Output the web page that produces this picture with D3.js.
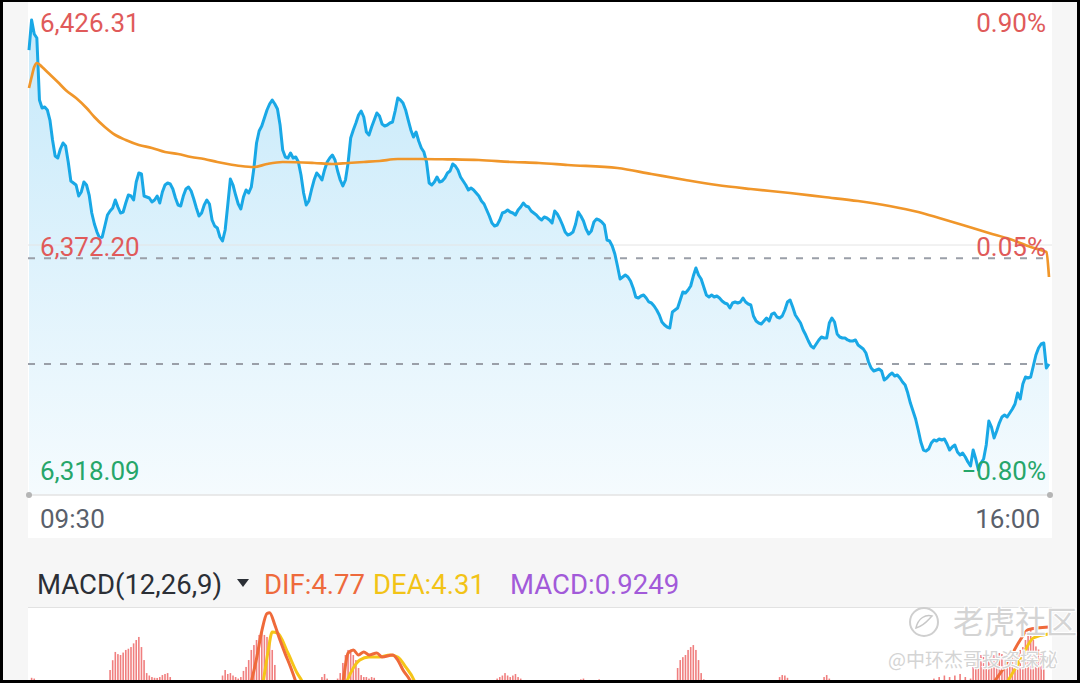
<!DOCTYPE html>
<html>
<head>
<meta charset="utf-8">
<script src="https://cdnjs.cloudflare.com/ajax/libs/d3/7.8.5/d3.min.js"></script>
<style>
body { margin: 0; background: #000; }
svg { display: block; font-family: Roboto, "Noto Sans", sans-serif; }
</style>
</head>
<body>
<script>
// minute closes, index = minutes after 09:30 (0..390)
var price = [
6419.09,6426.31,6422.94,6421.98,6407.07,6405.15,6405.39,6404.67,6402.26,6397.45,
6393.60,6393.12,6395.29,6396.73,6396.01,6392.16,6387.59,6387.11,6386.63,6383.98,
6384.95,6387.35,6386.63,6384.22,6379.89,6377.25,6375.32,6373.88,6374.12,6376.77,
6379.41,6380.38,6381.10,6383.02,6381.34,6379.89,6380.13,6382.30,6384.22,6383.98,
6383.02,6387.35,6389.51,6389.27,6383.98,6383.74,6383.50,6382.54,6383.02,6383.98,
6382.30,6384.95,6386.63,6387.11,6386.87,6385.67,6383.50,6381.82,6381.58,6383.98,
6385.67,6386.15,6385.19,6383.26,6381.10,6379.17,6379.89,6381.82,6383.02,6382.06,
6378.21,6376.77,6376.29,6374.12,6373.16,6375.81,6381.82,6388.07,6386.63,6384.22,
6382.06,6380.86,6383.74,6385.43,6384.70,6386.15,6390.72,6396.73,6399.61,6400.82,
6402.74,6404.67,6406.11,6407.07,6406.11,6404.91,6401.06,6395.05,6393.36,6393.12,
6394.32,6393.12,6393.36,6392.16,6389.03,6384.70,6381.82,6382.78,6385.43,6387.83,
6389.51,6388.79,6387.83,6390.24,6392.16,6393.12,6393.84,6392.64,6389.99,6387.83,
6386.39,6387.83,6391.92,6397.93,6399.86,6401.54,6403.46,6404.43,6402.98,6399.37,
6398.65,6400.58,6402.26,6403.94,6403.22,6401.30,6400.82,6401.06,6401.54,6401.78,
6404.43,6407.55,6407.07,6406.35,6404.67,6402.26,6399.86,6398.17,6399.37,6397.21,
6395.53,6394.56,6392.16,6387.11,6386.63,6387.35,6388.55,6387.35,6387.59,6388.31,
6389.51,6389.99,6391.68,6391.20,6390.24,6388.55,6387.59,6386.63,6385.43,6385.91,
6385.43,6384.70,6383.98,6382.78,6382.06,6380.62,6379.17,6377.49,6376.77,6377.01,
6378.21,6379.89,6380.13,6380.62,6380.13,6379.89,6379.41,6380.62,6381.34,6382.30,
6381.58,6381.34,6380.38,6379.89,6379.41,6378.69,6378.21,6378.93,6378.69,6378.21,
6377.49,6380.38,6379.65,6378.45,6377.01,6375.32,6374.60,6374.84,6375.32,6377.25,
6380.13,6379.17,6377.97,6376.05,6374.84,6375.56,6377.73,6378.45,6378.21,6377.73,
6377.01,6373.40,6373.16,6371.96,6370.03,6367.15,6364.02,6364.50,6364.98,6364.50,
6363.54,6361.87,6359.70,6359.46,6359.94,6360.18,6359.46,6358.50,6358.25,6357.53,
6356.57,6355.36,6353.68,6352.96,6352.47,6352.23,6356.09,6356.57,6357.05,6358.97,
6360.90,6360.66,6361.38,6362.34,6364.74,6366.67,6364.98,6364.02,6362.10,6360.18,
6359.70,6360.18,6359.70,6359.94,6359.46,6358.73,6358.25,6358.01,6357.05,6358.25,
6358.49,6358.25,6358.49,6359.46,6358.49,6358.01,6357.77,6355.12,6353.92,6353.44,
6353.20,6353.92,6354.64,6353.92,6355.60,6355.85,6354.88,6354.64,6355.12,6356.57,
6358.49,6358.97,6357.29,6355.36,6354.40,6353.44,6351.76,6350.55,6349.11,6347.91,
6347.43,6348.39,6349.36,6350.08,6349.84,6349.84,6353.44,6354.64,6353.68,6350.80,
6350.08,6349.84,6349.84,6349.36,6349.11,6349.11,6349.36,6348.15,6347.67,6347.19,
6346.23,6344.06,6342.62,6341.90,6342.14,6342.38,6341.90,6339.73,6340.21,6340.94,
6341.42,6340.70,6340.94,6340.21,6339.25,6338.53,6336.60,6334.20,6332.27,6330.35,
6327.71,6324.82,6322.89,6322.65,6323.13,6324.58,6325.31,6325.06,6325.55,6325.31,
6325.55,6324.34,6322.89,6323.62,6324.10,6322.41,6321.69,6322.17,6321.21,6320.01,
6319.05,6322.89,6320.73,6318.09,6319.77,6320.73,6324.10,6329.87,6328.43,6325.79,
6327.48,6329.37,6330.83,6331.31,6330.83,6331.80,6332.76,6333.96,6336.60,6335.17,
6338.77,6340.45,6340.21,6340.45,6343.10,6345.75,6347.43,6348.39,6348.63,6342.62,
6343.58
];
var prevClose = 6369.00;

// average price line
var avgMin = [0,1,2,3,5,7,11,14,18,22,25,29,33,37,42,47,52,57,62,67,72,76,81,86,91,97,
  109,116,122,128,134,141,150,160,172,185,195,206,225,238,251,263,276,291,304,317,329,
  340,348,357,367,375,383,388,389,390];
var avgPx = [6409.96,6412.60,6415.01,6415.97,6415.01,6413.80,6411.40,6409.48,6407.55,6405.15,
  6402.98,6400.58,6398.65,6397.45,6396.25,6395.53,6394.56,6394.08,6393.36,6392.88,6392.16,
  6391.68,6391.20,6390.96,6391.68,6392.16,6391.92,6391.68,6391.92,6392.16,6392.40,6392.88,
  6392.88,6392.80,6392.64,6392.16,6391.92,6391.44,6390.72,6389.27,6387.83,6386.63,6385.67,
  6384.70,6383.74,6382.78,6381.58,6380.13,6378.69,6377.01,6375.09,6373.64,6371.72,6370.76,
  6370.50,6364.50];

// MACD histogram (positive bars only, the rest sits below the visible strip)
var histMin = [0,1,2,3,
  31,32,33,34,35,36,37,38,39,40,41,42,43,44,45,46,47,48,49,50,51,52,53,54,55,
  74,75,76,77,78,79,80,81,82,83,84,85,86,87,88,89,90,91,92,93,94,95,
  112,113,114,118,119,120,121,122,123,124,125,126,127,128,129,130,131,132,
  179,180,181,182,183,184,185,186,187,188,211,212,218,
  246,247,248,249,250,251,252,253,254,255,256,257,258,
  287,288,289,290,304,305,306,
  346,348,350,352,354,356,358,360,
  361,362,363,364,365,366,367,368,369,370,371,372,373,374,375,376,377,378,379,380,
  381,382,383,384,385,386,387,388];
var histVal = [1.3,1.45,1.4,1.3,
  1.96,2.6,3.14,3.0,2.94,3.1,3.27,3.35,3.46,3.7,3.92,4.12,3.46,2.61,1.76,1.6,1.5,1.45,1.44,1.5,1.63,1.7,1.76,1.5,1.3,
  1.6,1.96,1.7,1.76,1.6,1.5,1.4,1.5,1.9,2.16,2.61,3.27,3.59,3.92,4.25,4.38,4.25,4.12,3.92,3.27,2.29,1.31,
  1.5,1.7,1.4,1.4,1.76,2.42,2.94,3.27,3.14,2.94,2.61,2.09,1.63,1.5,1.5,1.4,1.5,1.45,
  1.4,1.5,1.6,1.76,1.6,1.5,1.6,1.7,1.5,1.4,1.35,1.4,1.35,
  1.3,1.31,2.09,2.61,2.8,2.94,3.27,3.46,3.59,3.27,2.61,1.76,1.35,
  1.5,1.63,1.6,1.45,1.5,1.63,1.4,
  1.4,1.5,1.6,1.5,1.6,1.7,1.5,1.4,
  2.16,2.5,2.8,2.94,3.0,3.07,3.0,2.94,2.94,3.0,3.07,3.0,2.9,2.81,2.9,3.07,3.1,3.2,3.27,3.46,
  3.92,4.3,4.58,3.92,3.5,3.3,3.0,2.6];

var difMin = [0,80,85,87,89,91,92,94,96,98,100,102,106,116,120,122,124,126,128,130,133,135,139,141,143,146,150,360,369,374,379,382,390];
var difVal = [-1,-1,1.2,2.7,4.5,5.65,5.7,4.9,3.9,3.0,2.16,1.2,-1,-1,1.18,3.07,3.27,2.94,3.14,2.94,3.07,2.81,2.94,2.61,1.96,1.18,-1,-1,1.18,2.42,3.92,4.6,4.77];
var deaMin = [0,86,89.5,91.5,93,95,99,102.5,104.5,108,118,121.5,124,126.5,130,134,138,141,144,147.5,151,365,374,379,384,390];
var deaVal = [-1,-1,1.18,3.27,4.44,4.38,3.07,1.76,1.18,-1,-1,1.18,2.09,2.61,2.81,2.81,2.94,2.81,2.16,1.18,-1,-1,1.18,2.61,4.05,4.31];

var timeLabels = ["09:30", "16:00"];
var macdName = "MACD(12,26,9)";
var difLast = 4.77, deaLast = 4.31, macdLast = 0.9249;

var W = 1080, H = 683;
var red = "#e05a5a", green = "#26a66a";

var svg = d3.select("body").append("svg")
  .attr("width", W).attr("height", H);

// frame + panels
svg.append("rect").attr("width", W).attr("height", H).attr("fill", "#000");
svg.append("rect").attr("x", 3).attr("y", 2).attr("width", W - 6).attr("height", 678).attr("fill", "#f6f6f6");
svg.append("rect").attr("x", 28).attr("y", 2).attr("width", 1024).attr("height", 536).attr("fill", "#fff");
svg.append("rect").attr("x", 28).attr("y", 608).attr("width", 1024).attr("height", 72).attr("fill", "#fff");
svg.append("line").attr("x1", 28).attr("x2", 1052).attr("y1", 607.5).attr("y2", 607.5)
  .attr("stroke", "#e2e2e2").attr("stroke-width", 1);

var x = d3.scaleLinear().domain([0, 390]).range([29, 1049]);
var y = d3.scaleLinear().domain([d3.min(price), d3.max(price)]).range([470, 20]);
var baseY = 495;

// gradient under the price line
var defs = svg.append("defs");
var grad = defs.append("linearGradient").attr("id", "fillGrad")
  .attr("gradientUnits", "userSpaceOnUse")
  .attr("x1", 0).attr("x2", 0).attr("y1", 20).attr("y2", baseY);
grad.append("stop").attr("offset", 0).attr("stop-color", "#c6e9fa");
grad.append("stop").attr("offset", 1).attr("stop-color", "#f5fbfe");

var area = d3.area()
  .x(function(d, i) { return x(i); })
  .y0(baseY)
  .y1(function(d) { return y(d); });

svg.append("path").datum(price).attr("d", area).attr("fill", "url(#fillGrad)");

// mid grid line
var mid = (d3.max(price) + d3.min(price)) / 2;
svg.append("line").attr("x1", 28).attr("x2", 1052).attr("y1", y(mid)).attr("y2", y(mid))
  .attr("stroke", "#e4e4e4").attr("stroke-width", 1);

// prev close + last price dashed lines
[prevClose, price[price.length - 1]].forEach(function(v) {
  svg.append("line").attr("x1", 28).attr("x2", 1050).attr("y1", y(v)).attr("y2", y(v))
    .attr("stroke", "#9a9fa8").attr("stroke-width", 2).attr("stroke-dasharray", "7,9");
});

// bottom axis line with end dots
svg.append("line").attr("x1", 29).attr("x2", 1050).attr("y1", baseY).attr("y2", baseY)
  .attr("stroke", "#e3e3e3").attr("stroke-width", 1.5);
[29, 1050].forEach(function(cx) {
  svg.append("circle").attr("cx", cx).attr("cy", baseY).attr("r", 3).attr("fill", "#b5b5b5");
});

var priceLine = d3.line()
  .x(function(d, i) { return x(i); })
  .y(function(d) { return y(d); });

svg.append("path").datum(price).attr("d", priceLine)
  .attr("fill", "none").attr("stroke", "#19a8e6").attr("stroke-width", 3)
  .attr("stroke-linejoin", "round");

var avgLine = d3.line()
  .x(function(d) { return x(d[0]); })
  .y(function(d) { return y(d[1]); })
  .curve(d3.curveMonotoneX);

svg.append("path").datum(d3.zip(avgMin, avgPx)).attr("d", avgLine)
  .attr("fill", "none").attr("stroke", "#f0962a").attr("stroke-width", 2.7);

// price / percent labels
var fmtP = d3.format(",.2f");
function pct(v) { return d3.format(".2f")((v - prevClose) / prevClose * 100) + "%"; }
var lab = [
  { v: d3.max(price), yy: 32, c: red },
  { v: mid, yy: 256, c: red },
  { v: d3.min(price), yy: 480, c: green }
];
lab.forEach(function(d) {
  svg.append("text").attr("x", 40).attr("y", d.yy).attr("fill", d.c)
    .attr("font-size", 26).text(fmtP(d.v));
  svg.append("text").attr("x", 1046).attr("y", d.yy).attr("fill", d.c)
    .attr("font-size", 26).attr("text-anchor", "end").text(pct(d.v));
});

// time labels
svg.append("text").attr("x", 40).attr("y", 528).attr("fill", "#5a606b")
  .attr("font-size", 26).text(timeLabels[0]);
svg.append("text").attr("x", 1040).attr("y", 528).attr("fill", "#5a606b")
  .attr("font-size", 26).attr("text-anchor", "end").text(timeLabels[1]);

// MACD header
svg.append("text").attr("x", 37).attr("y", 594).attr("font-size", 27.5)
  .attr("fill", "#2b2f36").text(macdName);
svg.append("path").attr("d", "M237,579 L249,579 L243,587 Z").attr("fill", "#2b2f36");
svg.append("text").attr("x", 264).attr("y", 594).attr("font-size", 27.5).attr("fill", "#ee6a3c")
  .text("DIF:" + difLast.toFixed(2));
svg.append("text").attr("x", 373).attr("y", 594).attr("font-size", 27.5).attr("fill", "#f2c316")
  .text("DEA:" + deaLast.toFixed(2));
svg.append("text").attr("x", 510).attr("y", 594).attr("font-size", 27.5).attr("fill", "#a25ad9")
  .text("MACD:" + macdLast.toFixed(4));

// MACD panel
defs.append("clipPath").attr("id", "macdClip").append("rect")
  .attr("x", 28).attr("y", 608).attr("width", 1024).attr("height", 72);
var ym = d3.scaleLinear().domain([0, 4.77]).range([700, 627]);
var mg = svg.append("g").attr("clip-path", "url(#macdClip)");

mg.selectAll("rect.bar").data(d3.zip(histMin, histVal)).enter().append("rect")
  .attr("class", "bar")
  .attr("x", function(d) { return x(d[0]) - 0.8; })
  .attr("width", 1.6)
  .attr("y", function(d) { return ym(d[1]); })
  .attr("height", function(d) { return ym(0) - ym(d[1]); })
  .attr("fill", "#f07f7f");

var mLine = d3.line()
  .x(function(d) { return x(d[0]); })
  .y(function(d) { return ym(d[1]); })
  .curve(d3.curveMonotoneX);

mg.append("path").datum(d3.zip(deaMin, deaVal)).attr("d", mLine)
  .attr("fill", "none").attr("stroke", "#f5c518").attr("stroke-width", 3);
mg.append("path").datum(d3.zip(difMin, difVal)).attr("d", mLine)
  .attr("fill", "none").attr("stroke", "#ef6a3a").attr("stroke-width", 3);

// watermark
var wm = svg.append("g").attr("fill", "#d4d4d4").attr("stroke", "#fff").attr("stroke-width", 1)
  .attr("paint-order", "stroke");
wm.append("circle").attr("cx", 924).attr("cy", 622).attr("r", 14)
  .attr("fill", "none").attr("stroke", "#cfcfcf").attr("stroke-width", 2);
wm.append("path").attr("d", "M916,628 C918,618 926,614 932,616 C928,620 924,626 916,628 Z")
  .attr("stroke", "#c8c8c8").attr("stroke-width", 1.5).attr("fill", "none");
wm.append("text").attr("x", 953).attr("y", 633).attr("font-size", 31)
  .attr("font-family", "'Noto Sans CJK SC', sans-serif").attr("stroke-width", 2).text("老虎社区");
wm.append("text").attr("x", 888).attr("y", 667).attr("font-size", 19)
  .attr("font-family", "'Noto Sans CJK SC', sans-serif").attr("stroke-width", 2).text("@中环杰哥投资探秘");
</script>
</body>
</html>
